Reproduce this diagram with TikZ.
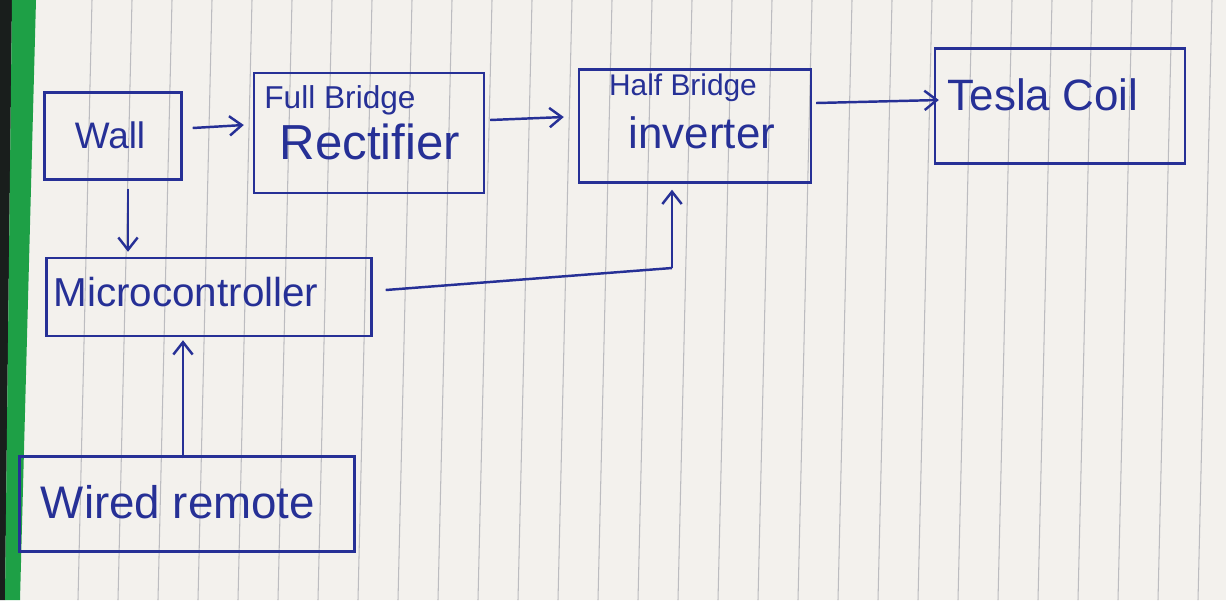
\documentclass[tikz,border=0pt]{standalone}
\usepackage{fontspec}
\setmainfont{Liberation Sans}
\usetikzlibrary{arrows.meta,calc}
\definecolor{ink}{RGB}{38,48,150}
\definecolor{paper}{RGB}{243,241,237}
\definecolor{ruleline}{RGB}{188,188,192}
\definecolor{bindgreen}{RGB}{30,160,70}
\definecolor{darkedge}{RGB}{25,30,28}
\begin{document}
\begin{tikzpicture}[x=0.02cm,y=-0.02cm,
  box/.style={draw=ink, line width=1.4pt, inner sep=0pt},
  lbl/.style={text=ink, inner sep=0pt},
  arr/.style={draw=ink, line width=1.4pt, -{Straight Barb[length=7pt,width=11pt,line width=1.4pt]}},
  wire/.style={draw=ink, line width=1.4pt}]
\useasboundingbox (0,0) rectangle (1226,600);
% paper
\fill[paper] (0,0) rectangle (1226,600);
\foreach \x in {0,...,28} {
  \draw[ruleline, line width=0.6pt] ({92+40*\x},0) -- ({78+40*\x},600);
}
\fill[darkedge] (0,0) -- (12,0) -- (5,600) -- (0,600) -- cycle;
\fill[bindgreen] (12,0) -- (36,0) -- (20,600) -- (5,600) -- cycle;
% boxes
\node[box, minimum width=2.74cm, minimum height=1.74cm] (wall) at (113,136) {};
\node[box, minimum width=4.6cm, minimum height=2.4cm] (rect) at (369,133) {};
\node[box, minimum width=4.64cm, minimum height=2.26cm] (inv) at (695,126) {};
\node[box, minimum width=5.0cm, minimum height=2.3cm] (tesla) at (1060,106) {};
\node[box, minimum width=6.5cm, minimum height=1.56cm] (micro) at (209,297) {};
\node[box, minimum width=6.7cm, minimum height=1.9cm] (remote) at (187,504) {};
% labels
\node[lbl, font=\fontsize{21}{24}\selectfont] (twall) at (110,135) {Wall};
\node[lbl, font=\fontsize{18}{20}\selectfont] (trect1) at (340,100) {Full Bridge};
\node[lbl, font=\fontsize{28}{30}\selectfont] (trect2) at (370,142) {Rectifier};
\node[lbl, font=\fontsize{17}{20}\selectfont] (tinv1) at (683,88) {Half Bridge};
\node[lbl, font=\fontsize{25}{28}\selectfont] (tinv2) at (702,133) {inverter};
\node[lbl, font=\fontsize{25}{28}\selectfont] (ttesla) at (1043,95) {Tesla Coil};
\node[lbl, font=\fontsize{23}{26}\selectfont] (tmicro) at (186,292) {Microcontroller};
\node[lbl, font=\fontsize{26}{28}\selectfont] (tremote) at (178,502) {Wired remote};
% connectors
\draw[arr] ($(wall.east)+(10,-8)$) -- ($(rect.west)+(-9,-8)$);
\draw[arr] ($(rect.east)+(5,-13)$) -- ($(inv.west)+(-14,-9)$);
\draw[arr] ($(inv.east)+(4,-23)$) -- ($(tesla.west)+(5,-6)$);
\draw[arr] ($(wall.south)+(15,8)$) -- ($(micro.north)+(-81,-5)$);
\draw[arr] ($(remote.north)+(-4,3)$) -- ($(micro.south)+(-26,3)$);
\coordinate (corner) at (672,268);
\draw[wire] ($(micro.east)+(13,-7)$) -- (corner);
\draw[arr] (corner) -- ($(inv.south)+(-23,6)$);
\end{tikzpicture}
\end{document}
